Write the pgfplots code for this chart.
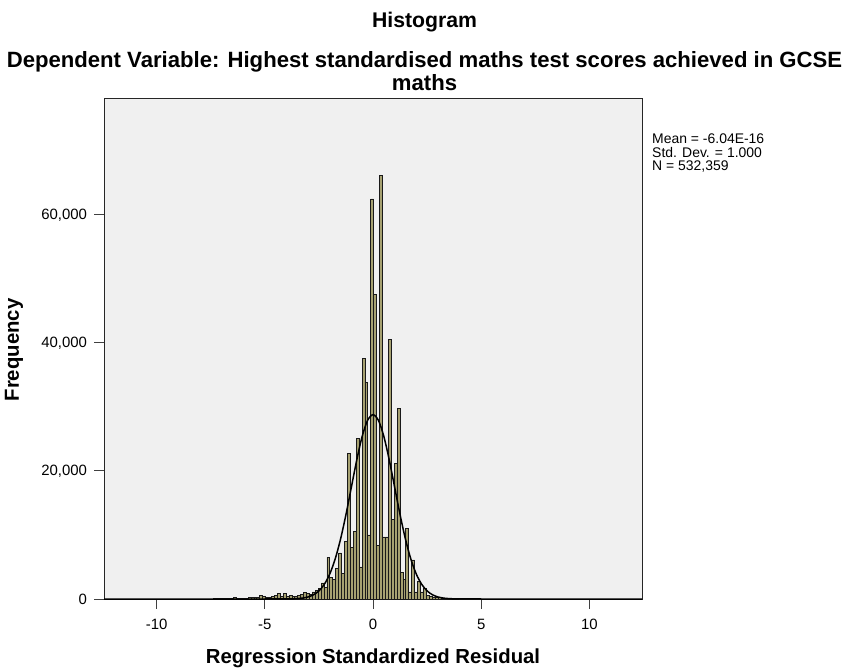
\documentclass[border=0pt]{standalone}
\usepackage{fontspec}
\setmainfont{Liberation Sans}
\usepackage{pgfplots}
\pgfplotsset{compat=1.18}
\definecolor{plotbg}{HTML}{F0F0F0}
\definecolor{barfill}{RGB}{166,161,113}

\begin{document}
\begin{tikzpicture}
\useasboundingbox (0,0) rectangle (849bp,671bp);
\begin{axis}[
    at={(104bp,72bp)}, anchor=south west,
    scale only axis, width=538bp, height=500bp,
    xmin=-12.43, xmax=12.43, ymin=0, ymax=78125,
    axis background/.style={fill=plotbg},
    axis line style={black!85, line width=1bp},
    xtick={-10,-5,0,5,10}, xticklabels={-10,-5,0,5,10},
    ytick={0,20000,40000,60000},
    yticklabels={0,{20,000},{40,000},{60,000}},
    scaled y ticks=false,
    xtick pos=bottom, ytick pos=left, tick align=outside,
    major tick length=9.5bp,
    tick style={black!75, line width=1bp},
    tick label style={font=\fontsize{15}{18}\selectfont},
    xticklabel style={yshift=-7bp},
    yticklabel style={xshift=-4bp},
]

% histogram of standardized residuals (bin width ~0.135)
\addplot[ybar, bar width=0.135, bar shift=0pt, fill=barfill,
         draw=black!90, line width=0.8bp] coordinates {
    (-7.325,30) (-7.19,40) (-7.055,60) (-6.92,50) (-6.785,80) (-6.65,100)
    (-6.515,120) (-6.38,200) (-6.245,150) (-6.11,100) (-5.975,120)
    (-5.84,150) (-5.705,180) (-5.57,200) (-5.435,250) (-5.3,300)
    (-5.165,600) (-5.03,350) (-4.895,250) (-4.76,300) (-4.625,350)
    (-4.49,500) (-4.355,900) (-4.22,400) (-4.085,900) (-3.95,450)
    (-3.815,500) (-3.68,400) (-3.545,450) (-3.41,500) (-3.275,700)
    (-3.14,1000) (-3.005,900) (-2.87,700) (-2.735,1100) (-2.6,1300)
    (-2.465,1700) (-2.33,2500) (-2.195,1800) (-2.06,6500) (-1.925,3400)
    (-1.79,3000) (-1.655,4800) (-1.52,7200) (-1.385,4000) (-1.25,9000)
    (-1.115,22800) (-0.98,8000) (-0.845,10500) (-0.71,25100) (-0.575,5000)
    (-0.44,37600) (-0.305,33900) (-0.17,10000) (-0.035,62500) (0.1,47600)
    (0.235,8400) (0.37,66200) (0.505,9700) (0.64,9700) (0.775,40600)
    (0.91,12400) (1.045,21200) (1.18,29800) (1.315,4200) (1.45,3000)
    (1.585,11000) (1.72,1100) (1.855,6100) (1.99,1100) (2.125,2700)
    (2.26,1100) (2.395,1700) (2.53,600) (2.665,400) (2.8,300)
    (2.935,250) (3.07,200) (3.205,150) (3.34,100) (3.475,60)
    (3.61,40) (3.745,30) (3.88,20)
};

% fitted normal curve
\addplot[black, line width=1.5bp, smooth] coordinates {
    (-12.43,0) (-5,0) (-4.5,1) (-4,10) (-3.75,26) (-3.5,63) (-3.25,146)
    (-3,320) (-2.75,656) (-2.5,1265) (-2.25,2291) (-2,3898) (-1.75,6229)
    (-1.5,9350) (-1.25,13185) (-1,17468) (-0.75,21738) (-0.5,25416)
    (-0.25,27913) (0,28800) (0.25,27913) (0.5,25416) (0.75,21738)
    (1,17468) (1.25,13185) (1.5,9350) (1.75,6229) (2,3898) (2.25,2291)
    (2.5,1265) (2.75,656) (3,320) (3.25,146) (3.5,63) (3.75,26) (4,10)
    (4.5,1) (5,0) (12.43,0)
};
\end{axis}

% titles
\node[font=\bfseries\fontsize{21.3}{24}\selectfont, anchor=base]
    at (424.5bp,643bp) {Histogram};
\node[font=\bfseries\fontsize{22.2}{24}\selectfont, anchor=base]
    at (424.5bp,603.5bp)
    {Dependent Variable: Highest standardised maths test scores achieved in GCSE};
\node[font=\bfseries\fontsize{22.2}{24}\selectfont, anchor=base]
    at (424.5bp,580.5bp) {maths};

% axis labels
\node[font=\bfseries\fontsize{20.4}{24}\selectfont, anchor=base]
    at (373bp,8bp) {Regression Standardized Residual};
\node[font=\bfseries\fontsize{20.4}{24}\selectfont, rotate=90]
    at (14bp,321bp) {Frequency};

% summary statistics
\node[font=\fontsize{14}{14}\selectfont, anchor=base west,
      align=left, inner sep=0pt]
    at (652bp,500bp)
    {Mean = -6.04E-16\\Std. Dev. = 1.000\\N = 532,359};
\end{tikzpicture}
\end{document}
